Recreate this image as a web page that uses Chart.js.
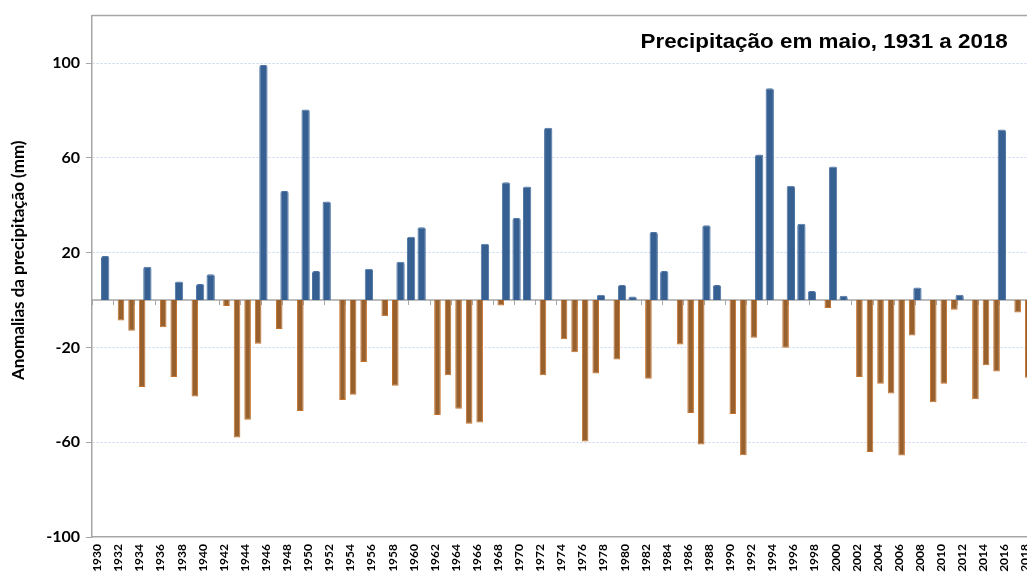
<!DOCTYPE html>
<html>
<head>
<meta charset="utf-8">
<script src="https://cdn.jsdelivr.net/npm/chart.js@4.4.1/dist/chart.umd.min.js"></script>
<style>
    html, body { margin: 0; padding: 0; background: #fff; overflow: hidden; }
    .chart { position: relative; width: 1047px; height: 577px; }
</style>
</head>
<body>
<div class="chart"><canvas id="chart"></canvas></div>
<script>
const years = [
    1930, 1931, 1932, 1933, 1934, 1935, 1936, 1937, 1938, 1939,
    1940, 1941, 1942, 1943, 1944, 1945, 1946, 1947, 1948, 1949,
    1950, 1951, 1952, 1953, 1954, 1955, 1956, 1957, 1958, 1959,
    1960, 1961, 1962, 1963, 1964, 1965, 1966, 1967, 1968, 1969,
    1970, 1971, 1972, 1973, 1974, 1975, 1976, 1977, 1978, 1979,
    1980, 1981, 1982, 1983, 1984, 1985, 1986, 1987, 1988, 1989,
    1990, 1991, 1992, 1993, 1994, 1995, 1996, 1997, 1998, 1999,
    2000, 2001, 2002, 2003, 2004, 2005, 2006, 2007, 2008, 2009,
    2010, 2011, 2012, 2013, 2014, 2015, 2016, 2017, 2018
];

// May precipitation anomaly (mm); no value for 1930
const anomalies = [
    null, 18.6, -8.7, -13.0, -36.7, 14.0, -11.5, -32.5, 7.8, -40.7,
    6.7, 10.9, -2.5, -58.0, -50.5, -18.5, 99.2, -12.2, 46.0, -46.8,
    80.4, 12.2, 41.6, -42.2, -40.0, -26.2, 13.2, -6.9, -36.2, 16.1,
    26.7, 30.7, -48.5, -31.8, -45.9, -52.2, -51.7, 23.7, -2.3, 49.7,
    34.6, 47.9, -31.8, 72.7, -16.6, -22.0, -59.7, -31.0, 2.2, -25.1,
    6.3, 1.5, -33.2, 28.7, 12.2, -18.8, -47.7, -61.0, 31.5, 6.3,
    -48.1, -65.5, -15.9, 61.4, 89.3, -20.2, 48.2, 32.2, 3.8, -3.4,
    56.3, 1.8, -32.5, -64.1, -35.3, -39.5, -65.6, -15.0, 5.3, -43.1,
    -35.3, -4.1, 2.2, -41.9, -27.5, -30.2, 71.9, -5.3, -32.8
];

const yTicks = [-100, -60, -20, 20, 60, 100];

const title = 'Precipitação em maio, 1931 a 2018';
const yTitle = 'Anomalias da precipitação (mm)';

const positives = anomalies.map(v => (v !== null && v > 0 ? v : null));
const negatives = anomalies.map(v => (v !== null && v < 0 ? v : null));

const fontFamily = 'Lato, "Open Sans", sans-serif';
const titleFamily = '"Liberation Sans", Arial, sans-serif';
const axisGrey = '#a6a6a6';

// zero line, frame and the two titles drawn inside the plot
const framePlugin = {
    id: 'frame',
    beforeDatasetsDraw(chart) {
        const { ctx, chartArea, scales: { x, y } } = chart;
        const y0 = y.getPixelForValue(0);
        const step = x.getPixelForValue(1) - x.getPixelForValue(0);
        ctx.save();
        ctx.strokeStyle = axisGrey;
        ctx.lineWidth = 1.5;
        ctx.beginPath();
        ctx.moveTo(chartArea.left, y0);
        ctx.lineTo(chartArea.right, y0);
        ctx.moveTo(chartArea.left, chartArea.top);
        ctx.lineTo(chartArea.right, chartArea.top);
        ctx.stroke();
        ctx.lineWidth = 1;
        ctx.beginPath();
        years.forEach((yr, i) => {
            if (i % 2 !== 0) return;
            const bx = Math.round(x.getPixelForValue(i) - step / 2) + 0.5;
            ctx.moveTo(bx, y0);
            ctx.lineTo(bx, y0 + 5);
        });
        ctx.stroke();
        ctx.restore();
    },
    afterDraw(chart) {
        const { ctx, chartArea } = chart;
        ctx.save();
        ctx.fillStyle = '#000';
        ctx.font = 'bold 20px ' + titleFamily;
        ctx.textAlign = 'right';
        ctx.textBaseline = 'alphabetic';
        // the original title is set a little wider than the font
        ctx.translate(chartArea.right - 23, chartArea.top + 32);
        ctx.scale(1.12, 1);
        ctx.fillText(title, 0, 0);
        ctx.restore();

        ctx.save();
        ctx.fillStyle = '#000';
        ctx.font = 'bold 17px ' + fontFamily;
        ctx.textAlign = 'center';
        ctx.textBaseline = 'middle';
        ctx.translate(19, (chartArea.top + chartArea.bottom) / 2 - 16);
        ctx.rotate(-Math.PI / 2);
        ctx.fillText(yTitle, 0, 0);
        ctx.restore();
    }
};

const ctx = document.getElementById('chart').getContext('2d');

new Chart(ctx, {
    type: 'bar',
    data: {
        labels: years,
        datasets: [{
            data: positives,
            backgroundColor: '#376092',
            borderColor: '#4d74a4',
            borderWidth: 1,
            borderRadius: 2,
            barPercentage: 1.58,
            categoryPercentage: 1.0
        }, {
            data: negatives,
            backgroundColor: '#98602c',
            borderColor: '#c4702a',
            borderWidth: 1,
            barPercentage: 1.25,
            categoryPercentage: 1.0
        }]
    },
    options: {
        responsive: true,
        maintainAspectRatio: false,
        animation: false,
        layout: { padding: { top: 13, right: 9, left: 0, bottom: 0 } },
        plugins: {
            legend: { display: false },
            tooltip: { enabled: false }
        },
        scales: {
            x: {
                grid: { display: false, drawTicks: false },
                border: { display: true, color: axisGrey, width: 1.5 },
                ticks: {
                    autoSkip: false,
                    maxRotation: 90,
                    minRotation: 90,
                    padding: 7,
                    color: '#000',
                    font: { family: fontFamily, size: 12, weight: 'bold' },
                    callback: (value, index) => (years[index] % 2 === 0 ? String(years[index]) : '')
                },
                afterFit: (scale) => { scale.height = 40; }
            },
            y: {
                min: -100,
                max: 120,
                afterBuildTicks: (scale) => { scale.ticks = yTicks.map(v => ({ value: v })); },
                grid: {
                    color: (c) => (c.tick && c.tick.value === -100 ? 'rgba(0,0,0,0)' : '#c5d6ee'),
                    tickColor: axisGrey,
                    tickLength: 6,
                    lineWidth: 1
                },
                border: { color: axisGrey, width: 1.5, dash: [2, 2] },
                ticks: {
                    padding: 6,
                    color: '#000',
                    font: { family: fontFamily, size: 16, weight: 'bold' }
                },
                afterFit: (scale) => { scale.width = 92; }
            }
        }
    },
    plugins: [framePlugin]
});
</script>
</body>
</html>
